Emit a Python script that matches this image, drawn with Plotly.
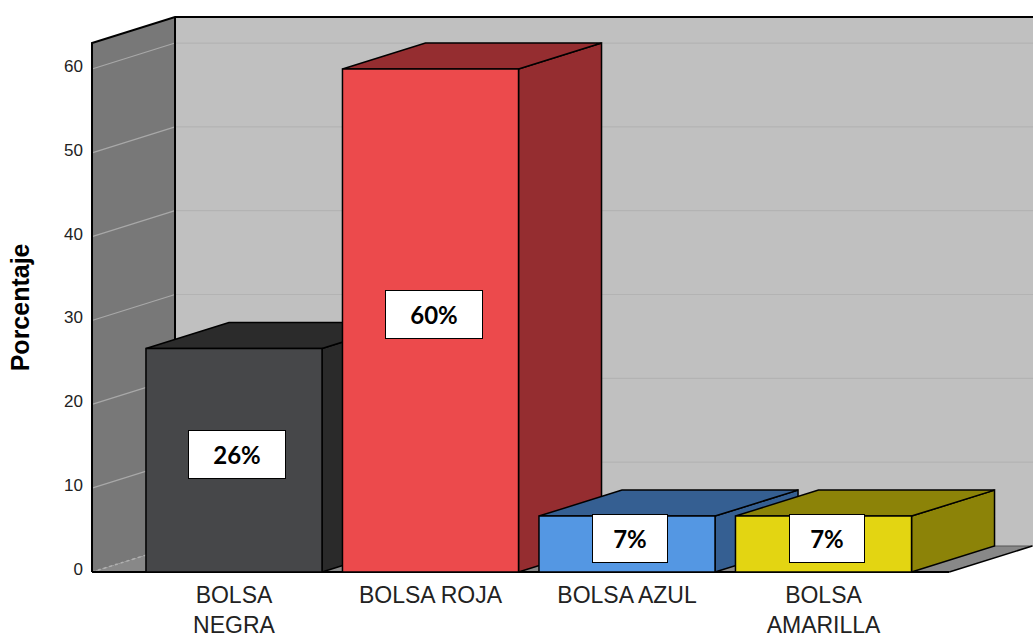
import plotly.graph_objects as go

# ---------------- data ----------------
categories = ["BOLSA<br>NEGRA", "BOLSA ROJA", "BOLSA AZUL", "BOLSA<br>AMARILLA"]
values = [26.67, 60.0, 6.67, 6.67]
value_labels = ["26%", "60%", "7%", "7%"]
front_colors = ["#464749", "#ec4a4c", "#5497e3", "#e3d512"]
top_colors = ["#2b2b2b", "#952d30", "#355f92", "#8c8308"]
side_colors = ["#2a2a2a", "#952d30", "#355f92", "#8c8308"]
y_ticks = [0, 10, 20, 30, 40, 50, 60]

# ---------------- geometry (oblique 3D projection, data units) ----------------
HALF_W = 0.448          # half bar width (category units)
DX = 0.4224             # depth offset in x (category units)
DY = 3.10               # depth offset in y (value units)
X_WALL = -0.7226        # front edge of the left wall
X_FLOOR_END = 3.64      # front right end of the floor
X_FAR = 4.6             # back wall extends past the right edge
Y_TOP = 63.1            # top of the walls (front)

fig = go.Figure()


def poly(xs, ys, fill, line_color="black", width=1.5, dash="solid"):
    fig.add_trace(go.Scatter(
        x=list(xs) + [xs[0]], y=list(ys) + [ys[0]], mode="lines",
        fill="toself", fillcolor=fill,
        line=dict(color=line_color, width=width, dash=dash),
        hoverinfo="skip", showlegend=False))


def seg(xs, ys, color="black", width=1.5, dash="solid"):
    fig.add_trace(go.Scatter(
        x=xs, y=ys, mode="lines",
        line=dict(color=color, width=width, dash=dash),
        hoverinfo="skip", showlegend=False))


# back wall
bx = X_WALL + DX
poly([bx, X_FAR, X_FAR, bx], [DY, DY, Y_TOP + DY, Y_TOP + DY], "#c0c0c0",
     line_color="rgba(0,0,0,0)", width=0)
for v in y_ticks[1:]:
    seg([bx, X_FAR], [v + DY, v + DY], color="#b3b3b3", width=1.2)

# floor
poly([X_WALL, X_FLOOR_END, X_FLOOR_END + DX, bx], [0, 0, DY, DY], "#888888",
     line_color="rgba(0,0,0,0)", width=0)
seg([bx, X_FAR], [DY, DY], color="#555555", width=1)
seg([X_FLOOR_END, X_FLOOR_END + DX], [0, DY], color="black", width=1.5)

# left wall
poly([X_WALL, X_WALL, bx, bx], [0, Y_TOP, Y_TOP + DY, DY], "#787878",
     line_color="rgba(0,0,0,0)", width=0)
for v in y_ticks[1:]:
    seg([X_WALL, bx], [v, v + DY], color="#a8a8a8", width=1.2)
seg([X_WALL, bx], [0, DY], color="#b0b0b0", width=1.5, dash="dot")

# wall edges
seg([X_WALL, X_WALL, bx, X_FAR], [0, Y_TOP, Y_TOP + DY, Y_TOP + DY], width=2)
seg([bx, bx], [DY, Y_TOP + DY], width=2)
seg([X_WALL, X_FLOOR_END], [0, 0], width=2)

# bars, left to right so later bars cover earlier ones
for i, v in enumerate(values):
    x0, x1 = i - HALF_W, i + HALF_W
    # right side face
    poly([x1, x1 + DX, x1 + DX, x1], [0, DY, v + DY, v], side_colors[i])
    # top face
    poly([x0, x1, x1 + DX, x0 + DX], [v, v, v + DY, v + DY], top_colors[i])
    # front face
    poly([x0, x1, x1, x0], [0, 0, v, v], front_colors[i])

# value labels
for i, (v, t) in enumerate(zip(values, value_labels)):
    fig.add_annotation(
        x=i, y=v / 2, xref="x", yref="y", text=t, showarrow=False,
        yshift=6, xshift=3, width=22 * len(t) + 12, align="center",
        font=dict(family="Lato, Noto Sans, sans-serif", size=24, color="black", weight="bold"),
        bgcolor="white", bordercolor="black", borderwidth=1, borderpad=9)

# y title
fig.add_annotation(
    x=-0.074, xref="paper", y=31.6, yref="y", text="Porcentaje", textangle=-90,
    showarrow=False, xanchor="center", yanchor="middle",
    font=dict(family="Liberation Sans, Arial, sans-serif", size=25, color="black", weight="bold"))

W, H = 1033, 637
fig.update_layout(
    width=W, height=H,
    margin=dict(l=90, r=0, t=0, b=63, autoexpand=False),
    paper_bgcolor="white", plot_bgcolor="white",
    xaxis=dict(range=[(90 - 234) / 196.5, (1033 - 234) / 196.5],
               tickvals=list(range(len(categories))), ticktext=categories,
               showgrid=False, zeroline=False, showline=False, ticks="",
               ticklabelstandoff=5,
               tickfont=dict(family="Liberation Sans, Arial, sans-serif", size=23, color="#222222")),
    yaxis=dict(range=[-2 / 8.383, 572 / 8.383],
               tickvals=y_ticks, showgrid=False, zeroline=False, showline=False, ticks="",
               ticklabelstandoff=6, ticklabelshift=-3,
               tickfont=dict(family="Liberation Sans, Arial, sans-serif", size=17, color="#222222")),
)

fig.write_html("out.html", config={"displayModeBar": False},
               post_script="document.body.style.margin='0';document.body.style.overflow='hidden';")
